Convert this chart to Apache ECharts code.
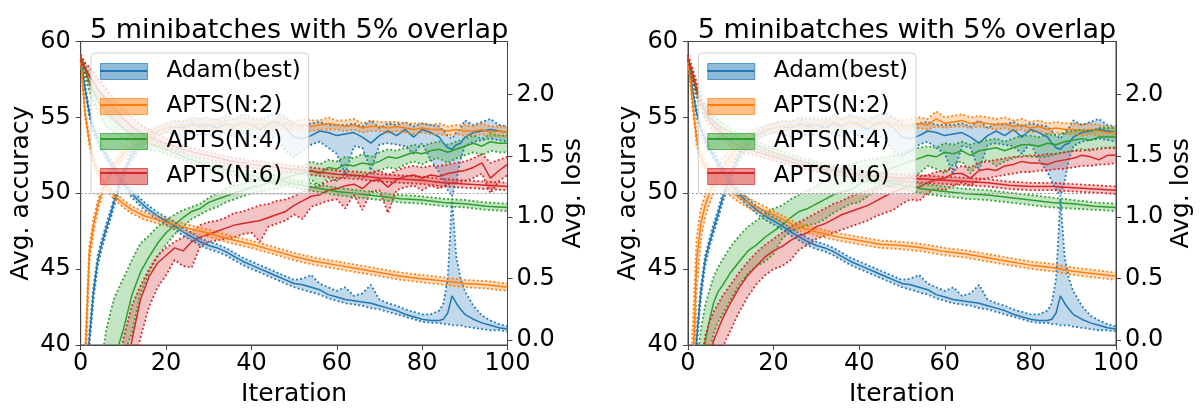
<!DOCTYPE html>
<html><head><meta charset="utf-8">
<script src="https://cdn.jsdelivr.net/npm/echarts@6.0.0/dist/echarts.min.js"></script>
<style>html,body{margin:0;padding:0;background:#fff}#c{width:1203px;height:412px}</style>
</head><body><div id="c"></div>
<script>
// ---------------- data ----------------
const titleText = '5 minibatches with 5% overlap';
const methodNames = ['Adam(best)', 'APTS(N:2)', 'APTS(N:4)', 'APTS(N:6)'];
const lossTicks = [0, 0.5, 1.0, 1.5, 2.0];
const refAccuracy = 50;

// iteration grids
const iterA = [0,1,2,3,4,5,6,7,8,10,12,14,16,18,20,22,24,26,28,30,32,34,36,38,40,42,44,46,48,50,52,54,56,58,60,62,64,66,68,70,72,74,76,78,80,82,84,85,86,87,88,89,90,92,94,96,98,100];
const iterN = [0,1,2,3,4,5,6,7,8,10,12,14,16,18,20,22,24,26,28,30,32,34,36,38,40,42,44,46,48,50,52,54,56,58,60,62,64,66,68,70,72,74,76,78,80,82,84,86,88,90,92,94,96,98,100];
const iterS = [0,1,2,3,4,5,6,8,10,12,15,20,25,30,35,40,45,50,55,60,65,70,75,80,85,90,95,100];

// Adam(best) (same in both panels)
const adamAccMean = [20,30,40.3,43.5,45.6,46.7,47.7,48.6,49.6, 51.3,52.5,53.3,53.8,54.1,54.3,54.4,54.3,54.6,54.4,54.5,54.3,54.6,54.4,54.7,54.5,54.2,54.6,54.7,54.3,53.7,53.6,53.8,54.1,54.0,53.8,53.9,54.0,53.7,53.3,53.8,54.1,53.8,54.2,53.7,54.2,54.0,53.7, 53.3,53.0,52.9,53.2,53.3, 53.7,54.0,54.1,54.2,54.1,54.0];
const adamAccHi = [21,31,40.8,43.9,45.9,47.0,48.0,48.9,49.9, 51.6,52.8,53.6,54.1,54.4,54.6,54.8,54.7,55.0,54.9,55.0,54.8,55.1,54.9,55.2,55.0,54.8,55.1,55.3,55.0,54.6,54.4,54.6,54.7,54.5,54.5,54.5,54.6,54.4,54.8,54.3,54.6,54.5,54.7,54.4,54.6,54.5,54.4, 54.1,53.8,53.6,54.0,54.3, 54.8,54.5,54.7,54.9,54.5,54.4];
const adamAccLo = [19,29,39.8,43.0,45.2,46.4,47.4,48.3,49.3, 51.0,52.2,53.0,53.5,53.8,54.0,53.9,53.7,54.0,53.8,53.9,53.6,54.0,53.7,54.0,53.8,53.5,53.8,53.6,52.8,52.4,52.8,53.2,53.4,53.0,52.6,51.2,53.1,53.0,51.5,53.2,53.3,53.2,53.1,52.6,53.3,52.2,51.4, 50.8,50.2,49.8,50.8,52.2, 53.1,53.4,53.5,53.6,53.5,53.4];
const adamLossMean = [2.30,2.05,1.85,1.72,1.63,1.56,1.50,1.44,1.38, 1.28,1.19,1.12,1.06,1.01,0.97,0.93,0.88,0.84,0.80,0.77,0.75,0.72,0.68,0.64,0.61,0.58,0.55,0.52,0.49,0.46,0.45,0.43,0.41,0.37,0.35,0.33,0.32,0.31,0.30,0.28,0.26,0.24,0.21,0.19,0.17,0.16,0.16, 0.17,0.22,0.36,0.30,0.25, 0.21,0.17,0.14,0.12,0.10,0.09];
const adamLossHi = [2.32,2.08,1.88,1.75,1.66,1.59,1.53,1.47,1.41, 1.31,1.22,1.15,1.09,1.04,1.00,0.96,0.91,0.87,0.83,0.80,0.78,0.75,0.71,0.67,0.64,0.61,0.58,0.55,0.52,0.49,0.50,0.53,0.46,0.43,0.40,0.43,0.36,0.38,0.45,0.33,0.30,0.28,0.25,0.23,0.21,0.21,0.24, 0.30,0.50,1.15,0.68,0.50, 0.40,0.28,0.20,0.16,0.13,0.11];
const adamLossLo = [2.28,2.02,1.82,1.69,1.60,1.53,1.47,1.41,1.35, 1.25,1.16,1.09,1.03,0.98,0.94,0.90,0.85,0.81,0.77,0.74,0.72,0.69,0.65,0.61,0.58,0.55,0.52,0.49,0.46,0.43,0.41,0.39,0.37,0.34,0.32,0.30,0.29,0.28,0.26,0.25,0.23,0.21,0.19,0.17,0.15,0.14,0.14, 0.13,0.13,0.12,0.12,0.12, 0.11,0.10,0.09,0.08,0.08,0.07];

// Left panel, accuracy
const lN2AccMean = [20,38.5,46.0,47.9,49.2,50.1,50.8,51.4,51.9, 52.6,53.1,53.5,53.8,54.1,54.3,54.4,54.5,54.4,54.6,54.5,54.6,54.5,54.5,54.7,54.5,54.6,54.4,54.5,54.6,54.4,54.5,54.4,54.5,54.6,54.5,54.4,54.5,54.3,54.4,54.4,54.3,54.4,54.3,54.2,54.3,54.2,54.2,54.1,54.2,54.1,54.1,54.2,54.0,54.1,54.0];
const lN2AccHi = [21,39.8,46.5,48.3,49.5,50.4,51.1,51.7,52.2, 52.9,53.4,53.8,54.1,54.4,54.6,54.7,54.8,54.8,54.9,54.8,54.9,54.8,54.9,55.0,54.8,55.0,54.7,54.9,54.9,54.7,54.9,54.8,54.8,55.0,54.8,54.8,54.9,54.6,54.8,54.7,54.7,54.7,54.6,54.6,54.6,54.5,54.6,54.4,54.5,54.5,54.4,54.6,54.4,54.4,54.4];
const lN2AccLo = [19,37,45.3,47.4,48.8,49.8,50.5,51.1,51.6, 52.3,52.8,53.2,53.5,53.8,54.0,54.1,54.2,54.1,54.3,54.2,54.3,54.2,54.2,54.4,54.2,54.3,54.1,54.2,54.3,54.1,54.2,54.1,54.2,54.2,54.2,54.1,54.2,54.0,54.1,54.1,54.0,54.1,54.0,53.9,54.0,53.9,53.9,53.8,53.9,53.8,53.8,53.9,53.7,53.8,53.7];
const lN4AccMean = [20,22,25,28,31,34.5,36.5,38,39.2, 41.0,43.3,44.8,45.8,46.7,47.4,47.9,48.4,48.8,49.0,49.4,49.6,49.8,50.0,50.2,50.4,50.5,50.7,50.8,51.0,51.2,51.3,51.5,51.3,51.7,51.6,51.9,51.8,52.0,51.9,52.1,52.4,52.3,52.5,52.7,52.6,52.8,52.9,52.7,52.9,53.1,53.3,53.1,53.4,53.3,53.3];
const lN4AccHi = [21,23,27,31,35,39.2,41.0,42.2,43.2, 44.4,45.6,46.7,47.2,47.8,48.2,48.6,48.9,49.1,49.3,49.7,50.0,50.3,50.5,50.6,50.8,51.0,51.1,51.3,51.4,51.6,51.8,52.1,51.9,52.2,52.1,52.4,52.3,52.6,52.4,52.7,52.9,52.8,53.0,53.2,53.1,53.3,53.4,53.2,53.4,53.6,53.8,53.6,53.9,53.8,53.8];
const lN4AccLo = [19,21,23,25,28,31,33,35,36.5, 39.3,40.8,43.4,44.8,45.8,46.6,47.3,47.8,48.3,48.6,48.9,49.1,49.4,49.6,49.8,50.0,50.1,50.2,50.3,50.5,50.7,50.6,50.9,50.5,51.0,50.8,51.3,51.1,51.2,51.3,51.5,51.7,51.6,51.9,52.1,51.9,52.2,52.3,52.0,52.3,52.5,52.7,52.5,52.8,52.7,52.7];
const lN6AccMean = [20,21,22,23,25,27,29,31,33, 37.8,40.3,43.0,44.5,45.4,45.9,46.4,46.2,46.8,47.1,47.3,47.5,47.7,47.9,48.0,48.1,48.2,48.4,48.6,48.8,49.2,49.5,49.8,49.9,50.2,50.3,50.5,50.6,50.3,50.8,50.9,50.4,50.9,51.1,51.2,51.0,51.2,51.1,51.3,51.4,51.5,51.7,52.0,51.0,51.5,51.9];
const lN6AccHi = [21,22,23,25,27,29,32,34.5,37, 40.4,42.6,43.9,45.0,45.9,46.4,46.8,47.1,47.5,47.9,48.1,48.2,48.4,48.7,48.8,49.0,49.2,49.3,49.5,49.6,49.8,50.1,50.4,50.5,50.8,50.9,51.1,51.2,51.0,51.4,51.5,51.2,51.5,51.7,51.8,51.7,51.8,51.8,51.9,52.0,52.1,52.3,52.6,52.0,52.2,52.4];
const lN6AccLo = [19,20,21,22,23,25,27,29,31, 35,37.5,40.5,42.5,43.8,44.6,45.6,45.2,45.1,46.5,46.8,46.9,47.0,47.1,47.3,47.4,46.8,47.8,48.0,48.2,48.6,48.3,49.1,49.3,49.5,49.6,49.0,49.9,48.9,50.1,50.2,48.7,50.2,50.4,50.5,50.2,50.5,50.3,50.6,50.7,50.8,51.0,51.3,50.0,50.8,51.2];

// Left panel, loss
const lN2LossMean = [2.30,1.85,1.62,1.47,1.36,1.30,1.25,1.17,1.11,1.06,1.01,0.96,0.91,0.87,0.82,0.78,0.73,0.68,0.64,0.61,0.58,0.55,0.52,0.50,0.48,0.46,0.45,0.43];
const lN2LossHi = [2.32,1.88,1.65,1.50,1.39,1.33,1.28,1.20,1.14,1.09,1.04,0.99,0.94,0.90,0.85,0.81,0.76,0.71,0.67,0.64,0.61,0.58,0.55,0.53,0.51,0.49,0.48,0.46];
const lN2LossLo = [2.28,1.82,1.59,1.44,1.33,1.27,1.22,1.14,1.08,1.03,0.98,0.93,0.88,0.84,0.79,0.75,0.70,0.65,0.61,0.58,0.55,0.52,0.49,0.47,0.45,0.43,0.42,0.40];
const lN4LossMean = [2.30,2.20,2.10,2.02,1.95,1.90,1.85,1.78,1.72,1.67,1.61,1.55,1.48,1.42,1.38,1.34,1.31,1.27,1.24,1.21,1.19,1.17,1.15,1.14,1.12,1.11,1.09,1.08];
const lN4LossHi = [2.32,2.24,2.16,2.10,2.05,2.00,1.96,1.88,1.80,1.74,1.66,1.58,1.51,1.45,1.41,1.37,1.34,1.30,1.27,1.24,1.22,1.20,1.18,1.17,1.15,1.14,1.12,1.11];
const lN4LossLo = [2.28,2.14,2.03,1.94,1.86,1.80,1.74,1.68,1.64,1.60,1.56,1.52,1.45,1.39,1.35,1.31,1.28,1.24,1.21,1.18,1.16,1.14,1.12,1.11,1.09,1.08,1.06,1.05];
const lN6LossMean = [2.30,2.22,2.15,2.10,2.04,2.00,1.96,1.88,1.80,1.74,1.67,1.60,1.54,1.50,1.46,1.43,1.41,1.39,1.37,1.35,1.34,1.32,1.31,1.30,1.28,1.27,1.26,1.25];
const lN6LossHi = [2.32,2.26,2.22,2.18,2.13,2.09,2.04,1.96,1.88,1.81,1.73,1.64,1.57,1.53,1.49,1.46,1.44,1.42,1.40,1.38,1.37,1.35,1.34,1.33,1.31,1.30,1.29,1.28];
const lN6LossLo = [2.28,2.18,2.08,2.02,1.95,1.91,1.87,1.80,1.72,1.67,1.61,1.56,1.51,1.47,1.43,1.40,1.38,1.36,1.34,1.32,1.31,1.29,1.28,1.27,1.25,1.24,1.23,1.22];

// Right panel, accuracy
const rN2AccMean = [20,37,45.5,48.0,49.2,50.0,50.6,51.2,51.7, 52.5,53.1,53.6,53.9,54.2,54.3,54.4,54.5,54.4,54.6,54.5,54.6,54.7,54.5,54.7,54.6,54.7,54.5,54.7,54.6,54.4,54.5,54.6,54.5,54.9,54.6,54.7,54.8,54.6,54.7,54.6,54.5,54.6,54.4,54.5,54.3,54.4,54.2,54.3,54.2,54.2,54.1,54.2,54.1,54.0,54.0];
const rN2AccHi = [21,40.5,47.0,49.0,49.9,50.7,51.3,51.8,52.3, 53.0,53.5,54.0,54.3,54.5,54.6,54.7,54.8,54.8,54.9,54.8,55.0,55.0,54.9,55.1,54.9,55.1,54.9,55.0,55.0,54.8,54.9,55.0,54.9,55.4,55.0,55.1,55.2,55.0,55.1,55.0,54.9,55.0,54.8,54.9,54.7,54.8,54.6,54.7,54.6,54.6,54.5,54.6,54.5,54.4,54.4];
const rN2AccLo = [19,34,43.5,47.0,48.4,49.3,50.0,50.6,51.1, 52.0,52.7,53.2,53.6,53.9,54.0,54.1,54.2,54.1,54.3,54.2,54.3,54.4,54.2,54.4,54.3,54.4,54.2,54.4,54.3,54.1,54.2,54.3,54.2,54.4,54.3,54.4,54.4,54.3,54.4,54.3,54.2,54.3,54.1,54.2,54.0,54.1,53.9,54.0,53.9,53.9,53.8,53.9,53.8,53.7,53.7];
const rN4AccMean = [20,24,33,37,40.2,41.6,42.8,43.5,43.9, 44.8,45.5,46.2,46.6,47.1,47.5,47.9,48.4,48.8,49.0,49.3,49.6,49.9,50.1,50.2,50.6,50.8,51.1,51.4,51.7,51.9,52.1,52.3,52.5,52.4,52.7,52.6,52.8,52.5,52.8,52.9,53.0,52.8,53.0,53.2,53.2,53.1,53.3,53.2,53.4,53.5,53.6,53.5,53.7,53.7,53.7];
const rN4AccHi = [21,28,38.5,41.0,42.6,43.6,44.5,45.1,45.6, 46.5,47.2,47.8,48.2,48.6,49.0,49.2,49.6,49.9,50.2,50.5,50.8,51.3,51.6,51.9,52.1,52.2,52.3,52.4,52.5,52.6,52.8,53.0,53.1,53.0,53.3,53.2,53.4,53.2,53.4,53.5,53.6,53.4,53.6,53.8,53.8,53.7,53.9,53.8,54.0,54.1,54.2,54.1,54.3,54.3,54.3];
const rN4AccLo = [19,21,30,34,37.5,39.5,40.8,41.5,42.0, 43.0,44.0,44.7,45.2,45.5,46.0,47.0,47.5,47.7,47.9,48.0,48.3,48.7,49.0,49.3,49.4,49.8,50.2,50.4,50.5,50.7,51.3,51.3,51.8,51.6,51.3,51.9,52.1,51.3,52.0,52.2,51.8,52.1,52.3,52.5,52.4,52.4,52.4,52.6,52.7,52.8,52.9,52.8,53.0,53.0,53.0];
const rN6AccMean = [20,22,27,34,37,39.0,40.3,41.0,41.7, 42.8,43.8,44.6,45.2,45.8,46.2,46.5,46.9,47.2,47.4,47.8,48.0,48.3,48.6,48.8,49.0,49.2,49.5,49.8,50.1,50.3,50.5,50.4,50.7,50.9,51.0,51.3,51.3,51.0,51.5,51.6,51.5,51.8,51.9,52.1,52.0,52.0,51.9,52.1,52.2,52.3,52.5,52.4,52.2,52.5,52.5];
const rN6AccHi = [21,24,31,38.5,40.6,41.5,42.2,42.7,43.2, 44.0,44.8,45.5,46.1,46.6,47.0,47.4,47.8,48.1,48.4,48.7,49.0,49.3,49.5,49.8,50.0,50.2,50.4,50.7,50.9,51.0,51.1,51.1,51.2,51.4,51.5,51.6,51.8,51.7,52.0,52.1,52.2,52.3,52.4,52.4,52.5,52.5,52.6,52.6,52.7,52.8,52.8,52.9,52.9,53.0,53.0];
const rN6AccLo = [19,20,24,31,34,36.5,38.0,39.0,39.8, 41.0,42.2,43.2,44.0,44.6,45.0,45.2,45.6,46.3,46.6,47.0,47.2,47.4,47.6,47.8,48.0,48.2,48.5,48.7,48.9,49.3,49.6,49.5,50.0,50.3,50.2,50.5,50.7,50.5,50.9,51.0,51.1,51.2,51.3,51.4,51.4,51.5,51.5,51.6,51.6,51.7,51.8,51.8,51.9,51.9,52.0];

// Right panel, loss
const rN2LossMean = [2.30,1.95,1.64,1.49,1.42,1.37,1.33,1.27,1.21,1.16,1.10,1.02,0.93,0.88,0.84,0.81,0.78,0.77,0.75,0.72,0.70,0.67,0.64,0.61,0.59,0.56,0.54,0.52];
const rN2LossHi = [2.32,1.99,1.69,1.53,1.46,1.41,1.37,1.31,1.25,1.20,1.14,1.05,0.96,0.91,0.87,0.84,0.81,0.80,0.78,0.75,0.73,0.70,0.67,0.64,0.62,0.59,0.57,0.55];
const rN2LossLo = [2.28,1.91,1.59,1.45,1.38,1.33,1.29,1.23,1.17,1.12,1.06,0.99,0.90,0.85,0.81,0.78,0.75,0.74,0.72,0.69,0.67,0.64,0.61,0.58,0.56,0.53,0.51,0.49];
const rN4LossMean = [2.30,2.15,2.02,1.93,1.87,1.82,1.78,1.73,1.69,1.65,1.60,1.53,1.47,1.42,1.38,1.34,1.30,1.26,1.23,1.21,1.19,1.18,1.16,1.14,1.12,1.11,1.09,1.08];
const rN4LossHi = [2.32,2.18,2.06,1.97,1.91,1.86,1.82,1.77,1.72,1.68,1.63,1.56,1.50,1.45,1.41,1.37,1.33,1.29,1.27,1.25,1.23,1.22,1.20,1.18,1.16,1.14,1.12,1.11];
const rN4LossLo = [2.28,2.12,1.98,1.89,1.83,1.78,1.74,1.69,1.66,1.62,1.57,1.50,1.44,1.39,1.35,1.31,1.27,1.23,1.19,1.17,1.15,1.14,1.12,1.10,1.08,1.07,1.06,1.05];
const rN6LossMean = [2.30,2.18,2.05,1.94,1.85,1.79,1.74,1.67,1.62,1.58,1.54,1.49,1.44,1.40,1.37,1.35,1.33,1.32,1.31,1.30,1.29,1.28,1.26,1.25,1.25,1.24,1.23,1.22];
const rN6LossHi = [2.32,2.22,2.10,1.99,1.90,1.84,1.78,1.71,1.66,1.62,1.57,1.52,1.47,1.43,1.40,1.38,1.36,1.35,1.34,1.33,1.32,1.31,1.29,1.28,1.28,1.27,1.26,1.25];
const rN6LossLo = [2.28,2.14,2.00,1.89,1.80,1.74,1.70,1.63,1.58,1.54,1.51,1.46,1.41,1.37,1.34,1.32,1.30,1.29,1.28,1.27,1.26,1.25,1.23,1.22,1.22,1.21,1.20,1.19];

// ---------------- chart ----------------
const FONT = 'DejaVu Sans';
const COLORS = ['#1f77b4', '#ff7f0e', '#2ca02c', '#d62728'];
const DOT = [1.8, 2.4];
function rgba(hex, a) {
  const n = parseInt(hex.slice(1), 16);
  return 'rgba(' + (n >> 16 & 255) + ',' + (n >> 8 & 255) + ',' + (n & 255) + ',' + a + ')';
}
function pairs(xs, ys) { return xs.map((x, i) => [x, ys[i]]); }

// shaded band between lo and hi, drawn as one polygon through the axis scales
function bandArea(name, color, xs, lo, hi, xi, yi) {
  const fill = rgba(color, 0.28);
  return {
    type: 'custom', name: name, xAxisIndex: xi, yAxisIndex: yi, silent: true, clip: true,
    encode: {x: 0, y: [1, 2]},
    data: xs.map((x, i) => [x, lo[i], hi[i]]),
    renderItem: function (params, api) {
      if (params.dataIndexInside !== 0) return null;
      const n = params.dataInsideLength;
      const bot = [], top = [];
      for (let i = 0; i < n; i++) {
        bot.push(api.coord([api.value(0, i), api.value(1, i)]));
        top.push(api.coord([api.value(0, i), api.value(2, i)]));
      }
      const cs = params.coordSys;
      return {
        type: 'polygon',
        shape: {points: bot.concat(top.reverse())},
        style: {fill: fill, stroke: null},
        clipPath: {type: 'rect', shape: {x: cs.x, y: cs.y, width: cs.width, height: cs.height}}
      };
    }
  };
}
function band(name, color, xs, lo, mean, hi, xi, yi, extra) {
  const base = {type: 'line', name: name, xAxisIndex: xi, yAxisIndex: yi, symbol: 'none', silent: true, clip: true};
  return [
    bandArea(name, color, xs, lo, hi, xi, yi),
    Object.assign({}, base, {data: pairs(xs, lo), lineStyle: {color: color, width: 1.8, type: DOT}}),
    Object.assign({}, base, {data: pairs(xs, hi), lineStyle: {color: color, width: 1.8, type: DOT}}),
    Object.assign({}, base, {data: pairs(xs, mean), lineStyle: {color: color, width: 1.5}}, extra || {})
  ];
}
const refLine = {markLine: {silent: true, symbol: ['none', 'none'], label: {show: false},
  lineStyle: {color: '#9a9a9a', type: [2, 2], width: 1}, data: [{yAxis: refAccuracy}]}};

const panels = [
  {acc: [[iterA, adamAccLo, adamAccMean, adamAccHi], [iterN, lN2AccLo, lN2AccMean, lN2AccHi], [iterN, lN4AccLo, lN4AccMean, lN4AccHi], [iterN, lN6AccLo, lN6AccMean, lN6AccHi]],
   loss: [[iterA, adamLossLo, adamLossMean, adamLossHi], [iterS, lN2LossLo, lN2LossMean, lN2LossHi], [iterS, lN4LossLo, lN4LossMean, lN4LossHi], [iterS, lN6LossLo, lN6LossMean, lN6LossHi]]},
  {acc: [[iterA, adamAccLo, adamAccMean, adamAccHi], [iterN, rN2AccLo, rN2AccMean, rN2AccHi], [iterN, rN4AccLo, rN4AccMean, rN4AccHi], [iterN, rN6AccLo, rN6AccMean, rN6AccHi]],
   loss: [[iterA, adamLossLo, adamLossMean, adamLossHi], [iterS, rN2LossLo, rN2LossMean, rN2LossHi], [iterS, rN4LossLo, rN4LossMean, rN4LossHi], [iterS, rN6LossLo, rN6LossMean, rN6LossHi]]}
];

const series = [];
panels.forEach((p, pi) => {
  p.acc.forEach((c, mi) => {
    series.push(...band(methodNames[mi], COLORS[mi], c[0], c[1], c[2], c[3], pi, 2 * pi, mi === 0 ? refLine : null));
  });
  p.loss.forEach((c, mi) => {
    series.push(...band(methodNames[mi], COLORS[mi], c[0], c[1], c[2], c[3], pi, 2 * pi + 1));
  });
});

const gridPos = [{left: 80.7, top: 41.5, width: 426.8, height: 306.3}, {left: 688, top: 41.5, width: 428, height: 306.3}];
const AXC = '#444';
const tickFont = {fontFamily: FONT, fontSize: 24, color: '#000'};
const nameFont = {fontFamily: FONT, fontSize: 25, color: '#000'};
const xAxes = [], yAxes = [], titles = [], legends = [];
const PATCH = 'path://M0,0L0.01,0M61,26L60.99,26M0,5L47,5L47,21L0,21Z';
const LINE = 'path://M0,0L0.01,0M61,26L60.99,26M0,11.9L47,11.9L47,14.1L0,14.1Z';
gridPos.forEach((g, gi) => {
  xAxes.push({type: 'value', gridIndex: gi, min: 0, max: 100, interval: 20,
    name: 'Iteration', nameLocation: 'middle', nameGap: 37, nameTextStyle: nameFont,
    axisLine: {show: true, onZero: false, lineStyle: {color: AXC, width: 1}},
    axisTick: {show: true, length: 5, lineStyle: {color: AXC, width: 1}},
    axisLabel: Object.assign({margin: 7, showMinLabel: true, showMaxLabel: true}, tickFont),
    splitLine: {show: false}});
  yAxes.push({type: 'value', gridIndex: gi, position: 'left', min: 40, max: 60, interval: 5,
    name: 'Avg. accuracy', nameLocation: 'middle', nameGap: 47, nameTextStyle: nameFont,
    axisLine: {show: true, onZero: false, lineStyle: {color: AXC, width: 1}},
    axisTick: {show: true, length: 5, lineStyle: {color: AXC, width: 1}},
    axisLabel: Object.assign({margin: 10, showMinLabel: true, showMaxLabel: true}, tickFont),
    splitLine: {show: false}});
  yAxes.push({type: 'value', gridIndex: gi, position: 'right', min: -0.04, max: 2.43,
    name: 'Avg. loss', nameLocation: 'middle', nameGap: 53, nameTextStyle: nameFont,
    axisLine: {show: true, onZero: false, lineStyle: {color: AXC, width: 1}},
    axisTick: {show: true, length: 5, customValues: lossTicks, lineStyle: {color: AXC, width: 1}},
    axisLabel: Object.assign({margin: 9, customValues: lossTicks, formatter: v => v.toFixed(1)}, tickFont),
    splitLine: {show: false}});
  titles.push({text: titleText, left: g.left + g.width / 2, top: 12, textAlign: 'center',
    textStyle: {fontFamily: FONT, fontSize: 27, fontWeight: 'normal', color: '#000'}});
  const lgLeft = g.left + 10.3;
  const common = {orient: 'vertical', left: lgLeft, top: 53, itemWidth: 61, itemHeight: 26, itemGap: 8,
    padding: [5, 8, 4, 9], selectedMode: false, textStyle: {fontFamily: FONT, fontSize: 23, color: '#000'}};
  legends.push(Object.assign({}, common, {z: 4, backgroundColor: 'rgba(255,255,255,0.8)', borderColor: '#cfcfcf',
    borderWidth: 1, borderRadius: 4,
    data: methodNames.map((n, i) => ({name: n, icon: PATCH,
      itemStyle: {color: rgba(COLORS[i], 0.5), borderColor: rgba(COLORS[i], 0.7), borderWidth: 1}}))}));
  legends.push(Object.assign({}, common, {z: 5, formatter: () => '',
    data: methodNames.map((n, i) => ({name: n, icon: LINE, itemStyle: {color: COLORS[i], borderWidth: 0}}))}));
});

const chart = echarts.init(document.getElementById('c'), null, {renderer: 'canvas'});
chart.setOption({
  animation: false,
  backgroundColor: '#fff',
  title: titles,
  legend: legends,
  grid: gridPos.map(g => Object.assign({show: true, borderColor: AXC, borderWidth: 1, backgroundColor: 'transparent'}, g)),
  xAxis: xAxes,
  yAxis: yAxes,
  series: series
});
</script></body></html>
